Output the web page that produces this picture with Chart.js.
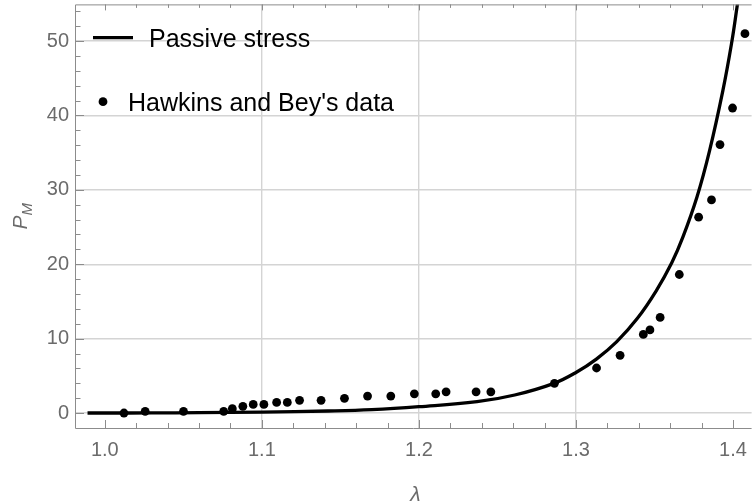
<!DOCTYPE html>
<html lang="en">
<head>
<meta charset="UTF-8">
<title>Passive stress</title>
<script src="https://cdn.jsdelivr.net/npm/chart.js@4"></script>
<style>
  html, body { margin: 0; padding: 0; background: #fff; overflow: hidden; }
  #wrap { width: 756px; height: 502px; }
</style>
</head>
<body>
<div id="wrap"><canvas id="stressChart" width="756" height="502"></canvas></div>
<script>
// model curve: stretch vs passive stress
const curveLambda = [0.989, 1.000, 1.030, 1.060, 1.100, 1.142, 1.170, 1.200, 1.237, 1.261, 1.286,
                     1.300, 1.313, 1.326, 1.339, 1.351, 1.361, 1.368, 1.377, 1.385, 1.3935, 1.399, 1.4025, 1.4045];
const curveStress = [0.0, 0.0, 0.01, 0.04, 0.12, 0.27, 0.45, 0.85, 1.52, 2.42, 3.99,
                     5.45, 7.25, 9.6, 12.7, 16.4, 20.2, 23.6, 29.0, 35.2, 43.3, 49.6, 54.5, 57.5];

// measured points
const dataLambda = [1.0122, 1.0257, 1.0501, 1.0757, 1.0812, 1.0879, 1.0945, 1.1013, 1.1094, 1.1162,
                    1.1240, 1.1377, 1.1526, 1.1673, 1.1821, 1.1971, 1.2107, 1.2173, 1.2364, 1.2458,
                    1.2863, 1.3131, 1.3281, 1.3429, 1.3471, 1.3536, 1.3658, 1.3781, 1.3863, 1.3917,
                    1.3997, 1.4076];
const dataStress = [0.0, 0.23, 0.23, 0.23, 0.58, 0.9, 1.15, 1.15, 1.42, 1.42,
                    1.7, 1.7, 1.98, 2.28, 2.28, 2.58, 2.58, 2.85, 2.85, 2.85,
                    3.99, 6.05, 7.75, 10.57, 11.17, 12.85, 18.62, 26.32, 28.65, 36.09,
                    41.0, 50.99];

const xTickValues = [1.0, 1.1, 1.2, 1.3, 1.4];
const yTickValues = [0, 10, 20, 30, 40, 50];
const xGridValues = [1.1, 1.2, 1.3];
const seriesLabels = ['Passive stress', "Hawkins and Bey's data"];

const FONT = "'Liberation Sans', Arial, sans-serif";
const FRAME = '#8c8c8c';
const LABEL = '#6b6b6b';

// no extra room for overhanging tick labels: the plot fills the canvas
function noPadding(s) {
  s.paddingTop = 0;
  s.paddingBottom = 0;
  s.paddingLeft = 0;
  s.paddingRight = 0;
}

const framePlugin = {
  id: 'frame',
  afterDatasetsDraw(chart) {
    const { ctx, chartArea: a, scales: { x, y } } = chart;
    ctx.save();
    ctx.strokeStyle = FRAME;
    ctx.lineWidth = 1;

    // frame: left, bottom, top
    ctx.beginPath();
    ctx.moveTo(a.left + 0.5, a.top + 0.5);
    ctx.lineTo(a.left + 0.5, a.bottom + 0.5);
    ctx.lineTo(a.right, a.bottom + 0.5);
    ctx.moveTo(a.left + 0.5, a.top + 0.5);
    ctx.lineTo(a.right, a.top + 0.5);
    ctx.stroke();

    // inward ticks
    ctx.beginPath();
    for (let v = 1.0; v < x.max; v += 0.02) {
      const major = Math.abs(v * 10 - Math.round(v * 10)) < 1e-6;
      const px = Math.round(x.getPixelForValue(v)) + 0.5;
      ctx.moveTo(px, a.bottom);
      ctx.lineTo(px, a.bottom - (major ? 8 : 5));
      ctx.moveTo(px, a.top);
      ctx.lineTo(px, a.top + (major ? 6 : 3.5));
    }
    for (let v = 0; v < y.max; v += 2) {
      const major = v % 10 === 0;
      const py = Math.round(y.getPixelForValue(v)) + 0.5;
      ctx.moveTo(a.left, py);
      ctx.lineTo(a.left + (major ? 9 : 5.5), py);
    }
    ctx.stroke();

    // axis titles
    ctx.fillStyle = LABEL;
    ctx.textBaseline = 'alphabetic';
    ctx.font = 'italic 21px ' + FONT;
    ctx.textAlign = 'center';
    ctx.fillText('λ', (a.left + a.right) / 2 + 2, 501);

    ctx.translate(27, (a.top + a.bottom) / 2);
    ctx.rotate(-Math.PI / 2);
    ctx.textAlign = 'left';
    ctx.font = 'italic 21px ' + FONT;
    const wP = ctx.measureText('P').width;
    ctx.font = 'italic 15px ' + FONT;
    const wM = ctx.measureText('M').width;
    const start = -(wP + wM) / 2;
    ctx.font = 'italic 21px ' + FONT;
    ctx.fillText('P', start, 0);
    ctx.font = 'italic 15px ' + FONT;
    ctx.fillText('M', start + wP, 5);
    ctx.restore();

    // legend inside the plot
    const lg = chart.options.plugins.frame;
    ctx.save();
    ctx.font = '25px ' + FONT;
    ctx.fillStyle = '#000';
    ctx.textAlign = 'left';
    ctx.textBaseline = 'alphabetic';
    const ds = chart.data.datasets;
    ctx.strokeStyle = ds[0].borderColor;
    ctx.lineWidth = ds[0].borderWidth;
    ctx.beginPath();
    ctx.moveTo(lg.lineX0, lg.row1);
    ctx.lineTo(lg.lineX1, lg.row1);
    ctx.stroke();
    ctx.fillText(ds[0].label, lg.text1, lg.row1 + 9);
    ctx.beginPath();
    ctx.fillStyle = ds[1].backgroundColor;
    ctx.arc(lg.dotX, lg.row2, ds[1].pointRadius, 0, Math.PI * 2);
    ctx.fill();
    ctx.fillStyle = '#000';
    ctx.fillText(ds[1].label, lg.text2, lg.row2 + 9.5);
    ctx.restore();
  }
};

new Chart(document.getElementById('stressChart'), {
  type: 'scatter',
  data: {
    datasets: [
      {
        label: seriesLabels[0],
        data: curveLambda.map((l, i) => ({ x: l, y: curveStress[i] })),
        showLine: true,
        borderColor: '#000',
        borderWidth: 3.3,
        pointRadius: 0,
        tension: 0.4,
        order: 2
      },
      {
        label: seriesLabels[1],
        data: dataLambda.map((l, i) => ({ x: l, y: dataStress[i] })),
        backgroundColor: '#000',
        borderWidth: 0,
        pointRadius: 4.4,
        order: 1
      }
    ]
  },
  options: {
    responsive: false,
    animation: false,
    devicePixelRatio: 1,
    layout: { padding: { top: 4, right: 0, bottom: 0, left: 0 } },
    plugins: {
      legend: { display: false },
      tooltip: { enabled: false },
      frame: { lineX0: 93, lineX1: 133, row1: 37.7, text1: 149, dotX: 103, row2: 101.7, text2: 128 }
    },
    scales: {
      x: {
        type: 'linear',
        min: 0.98102,
        max: 1.41183,
        afterBuildTicks: s => { s.ticks = xTickValues.map(v => ({ value: v })); },
        afterFit: s => { s.height = 74; noPadding(s); },
        ticks: {
          callback: v => Number(v).toFixed(1),
          color: LABEL,
          font: { family: FONT, size: 20 },
          padding: 10,
          maxRotation: 0
        },
        grid: {
          drawTicks: false,
          lineWidth: 1.4,
          color: c => (c.tick && xGridValues.some(g => Math.abs(g - c.tick.value) < 1e-6)) ? '#d4d4d4' : 'rgba(0,0,0,0)'
        },
        border: { display: false }
      },
      y: {
        type: 'linear',
        min: -2.0145,
        max: 54.93,
        afterBuildTicks: s => { s.ticks = yTickValues.map(v => ({ value: v })); },
        afterFit: s => { s.width = 75; noPadding(s); },
        ticks: {
          callback: v => String(v),
          color: LABEL,
          font: { family: FONT, size: 20 },
          padding: 6
        },
        grid: {
          drawTicks: false,
          lineWidth: 1.4,
          color: '#d4d4d4'
        },
        border: { display: false }
      }
    }
  },
  plugins: [framePlugin]
});
</script>
</body>
</html>
